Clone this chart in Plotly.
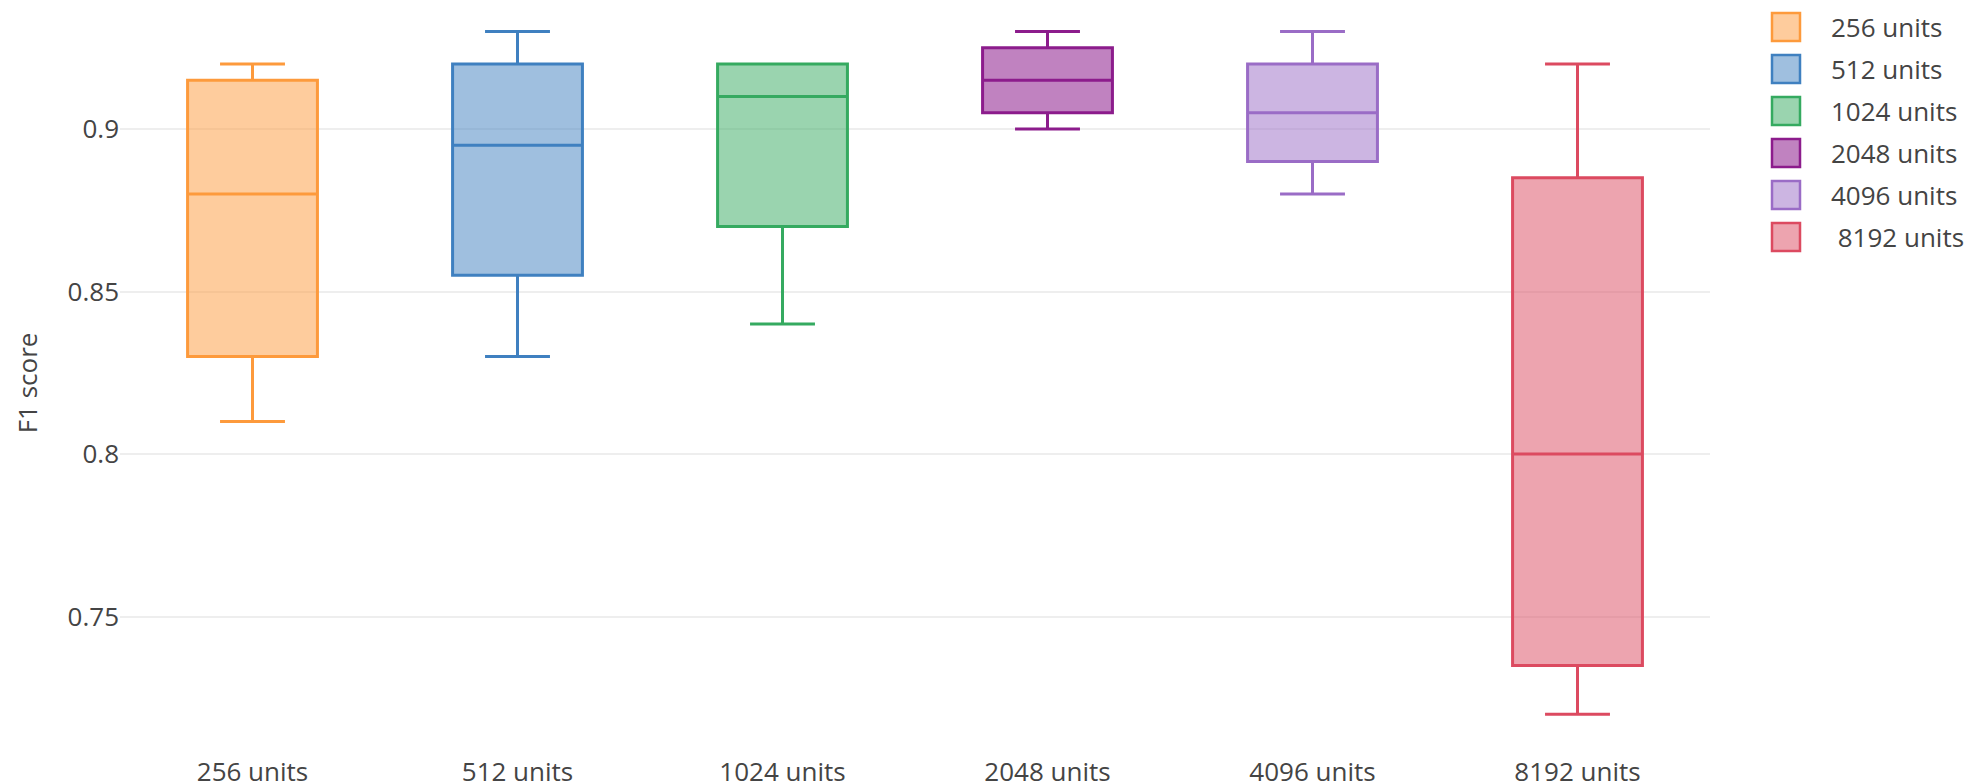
import plotly.graph_objects as go

# Box statistics per hidden-layer size
categories = ["256 units", "512 units", "1024 units", "2048 units", "4096 units", "8192 units"]
legend_names = ["256 units", "512 units", "1024 units", "2048 units", "4096 units", " 8192 units"]
lower_fence = [0.81, 0.83, 0.84, 0.90, 0.88, 0.72]
q1 = [0.83, 0.855, 0.87, 0.905, 0.89, 0.735]
median = [0.88, 0.895, 0.91, 0.915, 0.905, 0.80]
q3 = [0.915, 0.92, 0.92, 0.925, 0.92, 0.885]
upper_fence = [0.92, 0.93, 0.92, 0.93, 0.93, 0.92]

line_colors = ["#FD9A3C", "#3F80C0", "#35AA60", "#8C1C8C", "#9A6CC6", "#DC4A60"]
fill_colors = ["rgba(253,154,60,0.5)", "rgba(63,128,192,0.5)", "rgba(53,170,96,0.5)",
               "rgba(140,28,140,0.55)", "rgba(154,108,198,0.5)", "rgba(220,74,96,0.5)"]

y_ticks = [0.75, 0.8, 0.85, 0.9]
y_tick_text = ["0.75", "0.8", "0.85", "0.9"]

FONT = "Open Sans, verdana, arial, sans-serif"
TEXT_COLOR = "#444"

W, H = 1971, 784
M_L, M_R, M_T, M_B = 120, 261, 12, 30
PLOT_W = W - M_L - M_R
PLOT_H = H - M_T - M_B

fig = go.Figure()
for i, cat in enumerate(categories):
    fig.add_trace(go.Box(
        name=legend_names[i],
        x=[cat],
        q1=[q1[i]],
        median=[median[i]],
        q3=[q3[i]],
        lowerfence=[lower_fence[i]],
        upperfence=[upper_fence[i]],
        line=dict(color=line_colors[i], width=3),
        fillcolor=fill_colors[i],
        whiskerwidth=0.5,
        width=0.49,
        showlegend=False,
        hoverinfo="y",
    ))


def px_to_paper_x(px):
    return (px - M_L) / PLOT_W


def px_to_paper_y(py):
    return (H - M_B - py) / PLOT_H


# Legend drawn as swatches + labels to the right of the plot area
shapes = []
annotations = []
row0_y = 27
row_step = 42
for i, name in enumerate(legend_names):
    cy = row0_y + i * row_step
    shapes.append(dict(
        type="rect", xref="paper", yref="paper",
        x0=px_to_paper_x(1772), x1=px_to_paper_x(1800),
        y0=px_to_paper_y(cy + 14), y1=px_to_paper_y(cy - 14),
        line=dict(color=line_colors[i], width=2.5),
        fillcolor=fill_colors[i],
        layer="above",
    ))
    annotations.append(dict(
        xref="paper", yref="paper",
        x=px_to_paper_x(1829), y=px_to_paper_y(cy),
        xanchor="left", yanchor="middle",
        text=name.replace(" ", "&nbsp;", 1) if name.startswith(" ") else name,
        showarrow=False,
        font=dict(family=FONT, size=26, color=TEXT_COLOR),
    ))

fig.update_layout(
    width=W,
    height=H,
    margin=dict(l=M_L, r=M_R, t=M_T, b=M_B, pad=0, autoexpand=False),
    paper_bgcolor="white",
    plot_bgcolor="white",
    showlegend=False,
    font=dict(family=FONT, size=26, color=TEXT_COLOR),
    xaxis=dict(
        categoryorder="array",
        categoryarray=categories,
        range=[-0.5, 5.5],
        showgrid=False,
        zeroline=False,
        showline=False,
        ticks="",
        tickfont=dict(size=26, color=TEXT_COLOR),
        automargin=False,
    ),
    yaxis=dict(
        range=[0.70776, 0.93597],
        tickvals=y_ticks,
        ticktext=y_tick_text,
        showgrid=True,
        gridcolor="#eeeeee",
        gridwidth=2,
        zeroline=False,
        showline=False,
        ticks="",
        tickfont=dict(size=26, color=TEXT_COLOR),
        title=dict(text="F1 score", font=dict(size=26, color=TEXT_COLOR), standoff=22),
        automargin=False,
    ),
    shapes=shapes,
    annotations=annotations,
)

fig.write_html("out.html")
